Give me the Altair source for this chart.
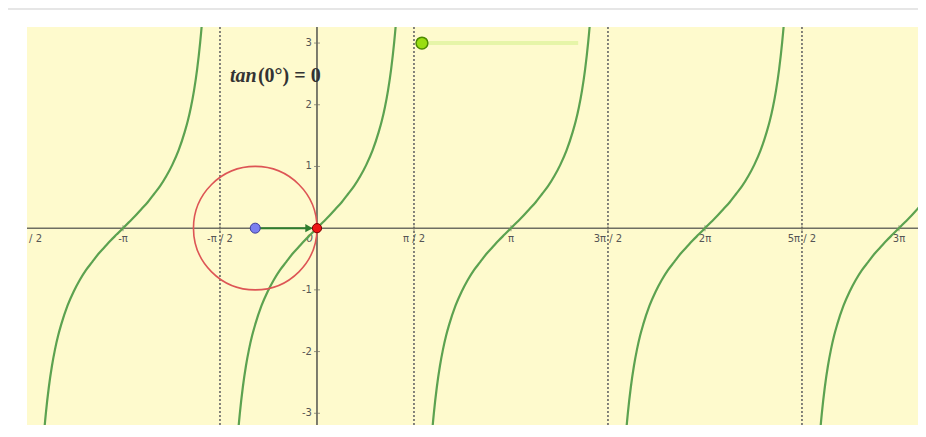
import altair as alt
import pandas as pd

# ---------------- data ----------------
# one branch of the curve: offsets from the branch centre and the read-off heights
branch_offsets = [-1.30, -1.28, -1.25, -1.20, -1.15, -1.10, -1.05, -1.00, -0.90, -0.80, -0.70,
                  -0.60, -0.50, -0.40, -0.30, -0.20, -0.10, 0.00, 0.10, 0.20, 0.30, 0.40,
                  0.50, 0.60, 0.70, 0.80, 0.90, 1.00, 1.05, 1.10, 1.15, 1.20, 1.25, 1.28, 1.30]
branch_values = [-3.60, -3.34, -3.01, -2.57, -2.23, -1.96, -1.74, -1.56, -1.26, -1.03, -0.84,
                 -0.68, -0.55, -0.42, -0.31, -0.20, -0.10, 0.00, 0.10, 0.20, 0.31, 0.42,
                 0.55, 0.68, 0.84, 1.03, 1.26, 1.56, 1.74, 1.96, 2.23, 2.57, 3.01, 3.34, 3.60]
branch_centers = [-3.1416, 0.0, 3.1416, 6.2832, 9.4248]

asymptotes = [-4.7124, -1.5708, 1.5708, 4.7124, 7.8540]

x_tick_pos = [-4.7124, -3.1416, -1.5708, 1.5708, 3.1416, 4.7124, 6.2832, 7.8540, 9.4248]
x_tick_lbl = ["-3π / 2", "-π", "-π / 2", "π / 2", "π", "3π / 2", "2π", "5π / 2", "3π"]
y_tick_pos = [3, 2, 1, -1, -2, -3]
y_tick_lbl = ["3", "2", "1", "-1", "-2", "-3"]

circle_center = [-1.0, 0.0]
vector_from = [-1.0, 0.0]
vector_to = [0.0, 0.0]

slider_start = [1.70, 3.0]
slider_end = [4.23, 3.0]

label_pos = [-1.41, 2.37]
label_parts = ["tan", "(0°) = 0"]

# ---------------- layout ----------------
W, H = 891, 398
XDOM = [-4.696, 9.733]
YDOM = [-3.19, 3.26]
UNIT = W / (XDOM[1] - XDOM[0])

xs = alt.Scale(domain=XDOM, nice=False, zero=False)
ys = alt.Scale(domain=YDOM, nice=False, zero=False)


def X(f="x"):
    return alt.X(f"{f}:Q", scale=xs, axis=None)


def Y(f="y"):
    return alt.Y(f"{f}:Q", scale=ys, axis=None)


rows = []
for b, c in enumerate(branch_centers):
    for u, v in zip(branch_offsets, branch_values):
        rows.append({"x": c + u, "y": v, "branch": b})
curve_df = pd.DataFrame(rows)

AXIS_COL = "#6e6e62"
LBL_COL = "#555555"

asym = alt.Chart(pd.DataFrame({"x": asymptotes})).mark_rule(
    color="#666666", strokeWidth=1.6, strokeDash=[2, 2], clip=True
).encode(x=X())

xaxis = alt.Chart(pd.DataFrame({"y": [0.0]})).mark_rule(
    color=AXIS_COL, strokeWidth=1.5
).encode(y=Y())
yaxis = alt.Chart(pd.DataFrame({"x": [0.0]})).mark_rule(
    color=AXIS_COL, strokeWidth=1.8
).encode(x=X())

xticks = alt.Chart(pd.DataFrame({"x": x_tick_pos, "y": [0.0] * len(x_tick_pos)})).mark_tick(
    orient="vertical", size=6, thickness=1, color=AXIS_COL, clip=True
).encode(x=X(), y=Y())
yticks = alt.Chart(pd.DataFrame({"x": [0.0] * len(y_tick_pos), "y": y_tick_pos})).mark_tick(
    orient="horizontal", size=6, thickness=1, color=AXIS_COL, clip=True
).encode(x=X(), y=Y())

xlabels = alt.Chart(pd.DataFrame({"x": x_tick_pos, "y": [0.0] * len(x_tick_pos), "t": x_tick_lbl})).mark_text(
    font="DejaVu Sans", fontSize=10, color=LBL_COL, align="center", baseline="middle", dy=11, clip=True
).encode(x=X(), y=Y(), text="t:N")
zero_label = alt.Chart(pd.DataFrame({"x": [0.0], "y": [0.0], "t": ["0"]})).mark_text(
    font="DejaVu Sans", fontSize=10, fontStyle="italic", color=LBL_COL, align="right", baseline="middle", dx=-4, dy=11
).encode(x=X(), y=Y(), text="t:N")
ylabels = alt.Chart(pd.DataFrame({"x": [0.0] * len(y_tick_pos), "y": y_tick_pos, "t": y_tick_lbl})).mark_text(
    font="DejaVu Sans", fontSize=10, color=LBL_COL, align="right", baseline="middle", dx=-5
).encode(x=X(), y=Y(), text="t:N")

curves = alt.Chart(curve_df).mark_line(
    color="#5ca250", strokeWidth=2.2, clip=True, interpolate="monotone"
).encode(x=X(), y=Y(), detail="branch:N", order="x:Q")

# Vega circle symbol: radius = sqrt(size) / 2  -> size = (2 * radius)^2
circle = alt.Chart(pd.DataFrame({"x": [circle_center[0]], "y": [circle_center[1]]})).mark_point(
    shape="circle", filled=False, size=4 * UNIT * UNIT, color="#dd5555", strokeWidth=1.6, opacity=1
).encode(x=X(), y=Y())

vec = alt.Chart(pd.DataFrame({"x": [vector_from[0], vector_to[0] - 0.1], "y": [vector_from[1], vector_to[1]]})).mark_line(
    color="#2e7d2e", strokeWidth=2
).encode(x=X(), y=Y())
arrow_head = alt.Chart(pd.DataFrame({"x": [vector_to[0] - 0.13], "y": [vector_to[1]]})).mark_point(
    shape="triangle-right", filled=True, size=70, color="#2e7d2e", opacity=1
).encode(x=X(), y=Y())

blue_pt = alt.Chart(pd.DataFrame({"x": [vector_from[0]], "y": [vector_from[1]]})).mark_point(
    shape="circle", filled=True, size=100, fill="#7b7ff0", stroke="#3f3f9a", strokeWidth=1, opacity=1
).encode(x=X(), y=Y())
red_pt = alt.Chart(pd.DataFrame({"x": [vector_to[0]], "y": [vector_to[1]]})).mark_point(
    shape="circle", filled=True, size=85, fill="#ee1515", stroke="#7a0000", strokeWidth=1, opacity=1
).encode(x=X(), y=Y())

label1 = alt.Chart(pd.DataFrame({"x": [label_pos[0]], "y": [label_pos[1]], "t": [label_parts[0]]})).mark_text(
    font="Liberation Serif", fontSize=20, fontWeight="bold", fontStyle="italic", color="#333333",
    align="left", baseline="alphabetic"
).encode(x=X(), y=Y(), text="t:N")
label2 = alt.Chart(pd.DataFrame({"x": [label_pos[0]], "y": [label_pos[1]], "t": [label_parts[1]]})).mark_text(
    font="Liberation Serif", fontSize=20, fontWeight="bold", color="#333333",
    align="left", baseline="alphabetic", dx=28
).encode(x=X(), y=Y(), text="t:N")

slider_line = alt.Chart(pd.DataFrame({"x": [slider_start[0], slider_end[0]], "y": [slider_start[1], slider_end[1]]})).mark_line(
    color="#e6f5a8", strokeWidth=4
).encode(x=X(), y=Y())
slider_pt = alt.Chart(pd.DataFrame({"x": [slider_start[0]], "y": [slider_start[1]]})).mark_point(
    shape="circle", filled=True, size=140, fill="#99dd11", stroke="#4d8a00", strokeWidth=1.5, opacity=1
).encode(x=X(), y=Y())

frame_left = alt.Chart(pd.DataFrame({"x": [0]})).mark_rule(color="#cfcfcf", strokeWidth=3).encode(
    x=alt.value(-21), y=alt.value(-19), y2=alt.value(H)
)
frame_top = alt.Chart(pd.DataFrame({"x": [0]})).mark_rule(color="#e6e6e6", strokeWidth=2).encode(
    x=alt.value(-20), x2=alt.value(W), y=alt.value(-18)
)

chart = alt.layer(
    frame_left, frame_top,
    asym, xaxis, yaxis, xticks, yticks, xlabels, zero_label, ylabels,
    slider_line, curves, circle, vec, arrow_head, blue_pt, red_pt,
    label1, label2, slider_pt,
).properties(
    width=W, height=H,
    autosize=alt.AutoSizeParams(type="none"),
    padding={"left": 19, "top": 19, "right": 0, "bottom": 0},
    background="white",
).configure_view(fill="#fefacd", stroke=None)

chart.save("out.html", embed_options={"renderer": "svg", "actions": False})
